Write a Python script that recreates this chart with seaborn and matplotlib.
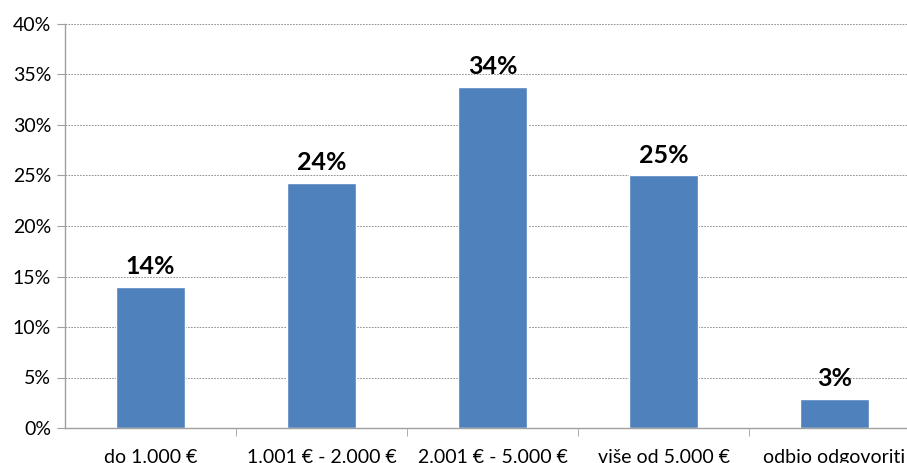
import matplotlib
matplotlib.use("Agg")
import matplotlib.pyplot as plt
import seaborn as sns
from matplotlib.ticker import FuncFormatter, FixedLocator

# data
categories = ["do 1.000 €", "1.001 € - 2.000 €", "2.001 € - 5.000 €", "više od 5.000 €", "odbio odgovoriti"]
values = [14.0, 24.3, 33.8, 25.0, 2.9]
labels = ["14%", "24%", "34%", "25%", "3%"]

sns.set_style("white")
plt.rcParams['font.family'] = ['Lato', 'DejaVu Sans']
plt.rcParams['text.color'] = 'black'
plt.rcParams['xtick.color'] = 'black'
plt.rcParams['ytick.color'] = 'black'

fig = plt.figure(figsize=(9.07, 4.63), dpi=100)
# plot area runs past the right edge, like the cropped original
ax = fig.add_axes([65/907, 1-428/463, 855/907, 404/463])

sns.barplot(x=categories, y=values, color="#4F81BD", width=0.4, ax=ax, saturation=1)

ax.set_ylim(0, 40)
ax.set_xlim(-0.5, 4.5)
ax.yaxis.set_major_locator(FixedLocator(range(0, 45, 5)))
ax.yaxis.set_major_formatter(FuncFormatter(lambda v, p: f"{int(v)}%"))
ax.grid(axis="y", color="#808080", linestyle=(0, (2, 1.5)), linewidth=0.6)
ax.set_axisbelow(True)

for s in ["top", "right"]:
    ax.spines[s].set_visible(False)
for s in ["left", "bottom"]:
    ax.spines[s].set_color("#A0A0A0")
    ax.spines[s].set_linewidth(1)

ax.tick_params(axis="y", length=6, color="#A0A0A0", labelcolor="black", labelsize=14, pad=4, left=True)
ax.tick_params(axis="x", which="major", length=0, labelcolor="black", labelsize=14, pad=15)
ax.set_xticks([0.5, 1.5, 2.5, 3.5], minor=True)
ax.tick_params(axis="x", which="minor", length=6, color="#A0A0A0", bottom=True)

for i, (v, t) in enumerate(zip(values, labels)):
    ax.annotate(t, (i, v), xytext=(0, 6), textcoords="offset points",
                ha="center", va="bottom", fontsize=18, fontweight="bold", color="black")

ax.set_xlabel("")
ax.set_ylabel("")
fig.savefig("out.png", dpi=100)
